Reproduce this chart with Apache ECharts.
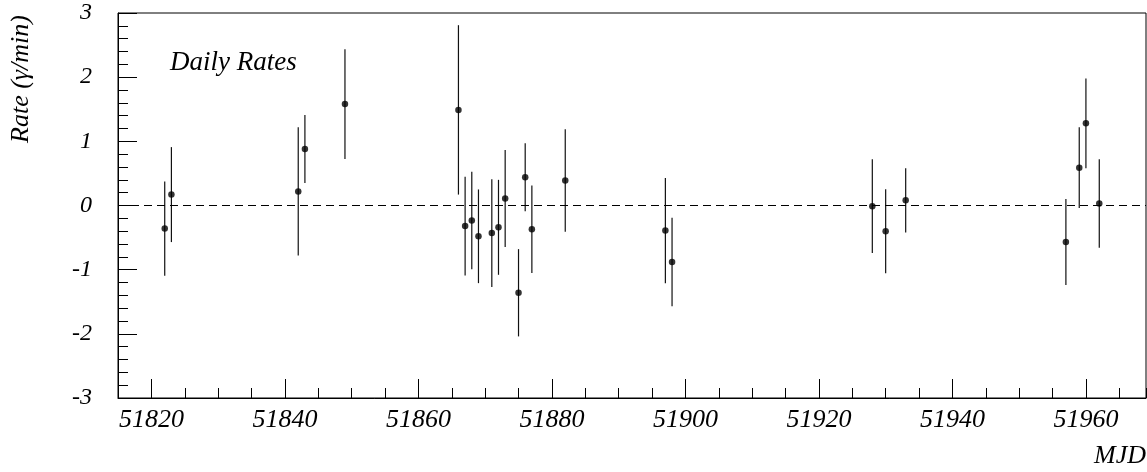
<!DOCTYPE html>
<html>
<head>
<meta charset="utf-8">
<script src="https://cdn.jsdelivr.net/npm/echarts@6/dist/echarts.min.js"></script>
<style>
html,body{margin:0;padding:0;background:#fff;}
#chart{width:1147px;height:472px;}
</style>
</head>
<body>
<div id="chart"></div>
<script>
// ---- data ----
const mjd  = [51822, 51823, 51842, 51843, 51849, 51866, 51867, 51868, 51869, 51871, 51872, 51873, 51875, 51876, 51877, 51882, 51897, 51898, 51928, 51930, 51933, 51957, 51959, 51960, 51962];
const rate = [-0.36, 0.17, 0.22, 0.88, 1.58, 1.49, -0.32, -0.235, -0.48, -0.43, -0.34, 0.11, -1.36, 0.44, -0.37, 0.39, -0.39, -0.88, -0.01, -0.40, 0.08, -0.57, 0.59, 1.28, 0.03];
const err  = [0.735, 0.74, 1.00, 0.53, 0.855, 1.32, 0.77, 0.76, 0.73, 0.84, 0.74, 0.755, 0.68, 0.53, 0.68, 0.80, 0.82, 0.69, 0.73, 0.655, 0.50, 0.67, 0.63, 0.70, 0.69];
const xMajorTicks = [51820, 51840, 51860, 51880, 51900, 51920, 51940, 51960];
const xRange = [51815, 51969];
const yRange = [-3, 3];
const title = 'Daily Rates';
const xName = 'MJD';
const yName = 'Rate (\u03B3/min)';

const FONT = "'Liberation Serif', 'DejaVu Serif', serif";
const points = mjd.map((x, i) => [x, rate[i]]);
const bars = mjd.map((x, i) => [x, rate[i] - err[i], rate[i] + err[i]]);

const chart = echarts.init(document.getElementById('chart'), null, {renderer: 'canvas'});
chart.setOption({
  animation: false,
  backgroundColor: '#fff',
  grid: {left: 118, right: 1, top: 13, bottom: 74, show: true, borderColor: '#000', borderWidth: 1, backgroundColor: 'transparent'},
  xAxis: [
    {
      type: 'value', min: xRange[0], max: xRange[1],
      axisLine: {show: true, onZero: false, lineStyle: {color: '#000', width: 1}},
      axisTick: {show: true, inside: true, length: 19, lineStyle: {color: '#000'}, customValues: xMajorTicks},
      axisLabel: {show: true, customValues: xMajorTicks, formatter: v => String(v), fontFamily: FONT, fontStyle: 'italic', fontSize: 26, color: '#000', margin: 9},
      splitLine: {show: false}
    },
    {
      type: 'value', min: xRange[0], max: xRange[1], interval: 5, position: 'bottom',
      axisLine: {show: false, onZero: false},
      axisTick: {show: true, inside: true, length: 10, lineStyle: {color: '#000'}},
      axisLabel: {show: false},
      splitLine: {show: false}
    }
  ],
  yAxis: {
    type: 'value', min: yRange[0], max: yRange[1], interval: 1,
    axisLine: {show: true, onZero: false, lineStyle: {color: '#000', width: 1}},
    axisTick: {show: true, inside: true, length: 19, lineStyle: {color: '#000'}},
    minorTick: {show: true, splitNumber: 5, length: 10, lineStyle: {color: '#000'}},
    axisLabel: {formatter: v => String(v), fontFamily: FONT, fontStyle: 'italic', fontSize: 24, color: '#000', margin: 26},
    splitLine: {show: false},
    minorSplitLine: {show: false}
  },
  graphic: [
    {type: 'text', x: 170, y: 63, style: {text: title, font: "italic 27px " + FONT, fill: '#000', align: 'left', verticalAlign: 'middle'}},
    {type: 'text', x: 1146, y: 456, style: {text: xName, font: "italic 26px " + FONT, fill: '#000', align: 'right', verticalAlign: 'middle'}},
    {type: 'text', x: 21, y: 79, rotation: Math.PI / 2, style: {text: yName, font: "italic 26px " + FONT, fill: '#000', align: 'center', verticalAlign: 'middle'}}
  ],
  series: [
    {
      type: 'custom',
      xAxisIndex: 0,
      data: bars,
      renderItem: function (params, api) {
        const lo = api.coord([api.value(0), api.value(1)]);
        const hi = api.coord([api.value(0), api.value(2)]);
        return {type: 'line', shape: {x1: lo[0], y1: lo[1], x2: hi[0], y2: hi[1]}, style: {stroke: '#111', lineWidth: 1.2}};
      },
      z: 2
    },
    {
      type: 'scatter',
      xAxisIndex: 0,
      data: points,
      symbol: 'circle',
      symbolSize: 6.5,
      itemStyle: {color: '#000'},
      z: 3,
      markLine: {
        silent: true, symbol: 'none', label: {show: false},
        lineStyle: {color: '#000', type: [8, 5], width: 1},
        data: [{yAxis: 0}]
      }
    }
  ]
});
</script>
</body>
</html>
